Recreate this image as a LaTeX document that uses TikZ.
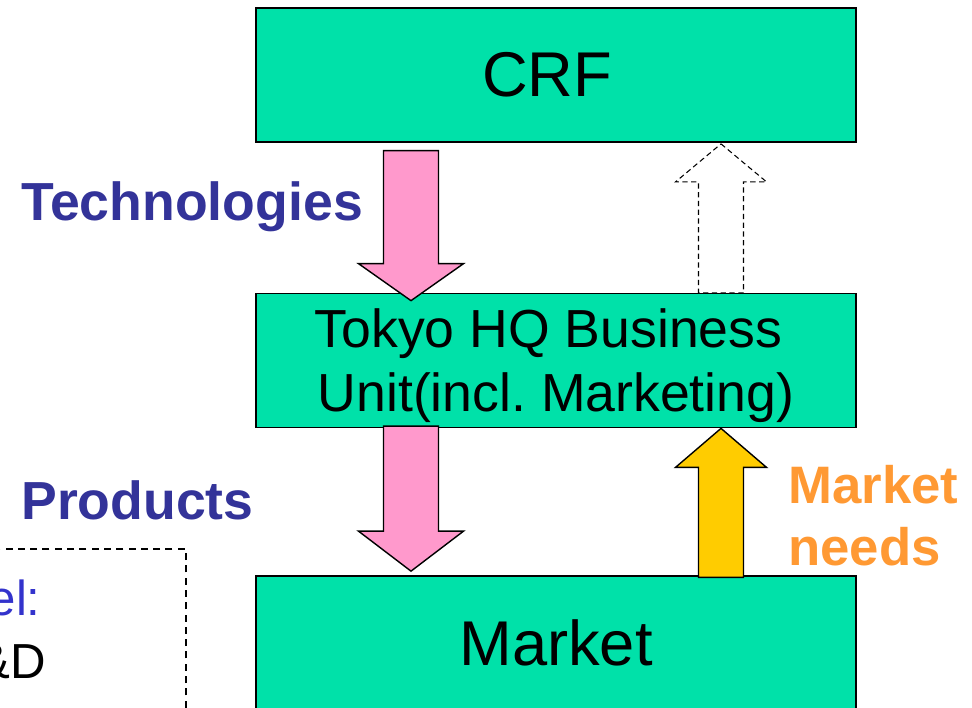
\documentclass[tikz,border=0pt]{standalone}
\usepackage{fontspec}
\setmainfont{Liberation Sans}
\usetikzlibrary{calc}
\definecolor{boxgreen}{HTML}{00E1A9}
\definecolor{flowpink}{HTML}{FF99CC}
\definecolor{needyellow}{HTML}{FFCC00}
\definecolor{labelblue}{HTML}{333399}
\definecolor{needorange}{HTML}{FF9933}
\definecolor{levelblue}{HTML}{3333CC}

\begin{document}
\begin{tikzpicture}
   [x=0.02cm,y=-0.02cm,
    unit box/.style={draw=black,line width=1pt,fill=boxgreen,minimum width=12cm,
           minimum height=2.68cm,inner sep=0pt,align=center},
    flow label/.style={font=\bfseries\fontsize{30.5}{36}\selectfont,inner sep=0pt,align=left},
    block arrow/.style={draw=black,line width=0.8pt,line join=miter},]
\pgfmathsetmacro{\hw}{52.5}
\pgfmathsetmacro{\sw}{27.5}
\pgfmathsetmacro{\hl}{37}

\clip (0,0) rectangle (972,707);
\fill[white] (0,0) rectangle (972,707);

% the three units
\node[unit box,font=\fontsize{36}{43}\selectfont] (crf) at (556,75) {CRF\hspace*{10pt}};
\node[unit box,font=\fontsize{30.5}{36.5}\selectfont,text depth=0pt] (tokyo) at (556,360.5)
        {Tokyo HQ Business\hspace*{8.5pt}\\Unit(incl.\ Marketing)};
\node[unit box,font=\fontsize{36}{43}\selectfont] (market) at (556,643) {Market};

% down arrows
\filldraw[block arrow,fill=flowpink] ($(tokyo.north)+(-145,8)$) coordinate (techtip)
        --++(\hw,-\hl) --++(\sw-\hw,0) --++(0,-113) --++(-2*\sw,0) --++(0,113) --++(\sw-\hw,0) -- cycle;
\filldraw[block arrow,fill=flowpink] ($(market.north)+(-145,-4)$) coordinate (prodtip)
        --++(\hw,-\hl-3) --++(\sw-\hw,0) --++(0,-105) --++(-2*\sw,0) --++(0,105) --++(\sw-\hw,0) -- cycle;

% up arrows
\pgfmathsetmacro{\hw}{45.5}
\pgfmathsetmacro{\sw}{22.5}
\draw[block arrow,line width=0.6pt,dash pattern=on 3pt off 2pt] ($(crf.south)+(165,1)$) coordinate (backtip)
        --++(\hw,38) --++(\sw-\hw,0) --++(0,111) --++(-2*\sw,0) --++(0,-111) --++(\sw-\hw,0) -- cycle;
\filldraw[block arrow,fill=needyellow] (tokyo.south -| backtip) coordinate (needtip)
        --++(\hw,39) --++(\sw-\hw,0) --++(0,110) --++(-2*\sw,0) --++(0,-110) --++(\sw-\hw,0) -- cycle;

% labels
\node[flow label,text=labelblue,anchor=base west] (tech) at (21,220) {Technologies};
\node[flow label,text=labelblue,anchor=base west] (prod) at (21,519) {Products};
\node[flow label,font=\bfseries\fontsize{30}{35.5}\selectfont,text=needorange,anchor=north west]
        (needs) at (788,465) {Market\\needs};

% level box, cut by the border
\node[draw=black,line width=0.8pt,dash pattern=on 4pt off 3pt,minimum width=4.12cm,
      minimum height=4.22cm] (level) at (83,654.5) {};
\node[font=\fontsize{28}{34}\selectfont,text=levelblue,anchor=base east,inner sep=0pt] (levelname) at (41,615) {el:};
\node[font=\fontsize{28}{34}\selectfont,anchor=base east,inner sep=0pt] (levelrd) at (46,678) {\&D};
\end{tikzpicture}
\end{document}
